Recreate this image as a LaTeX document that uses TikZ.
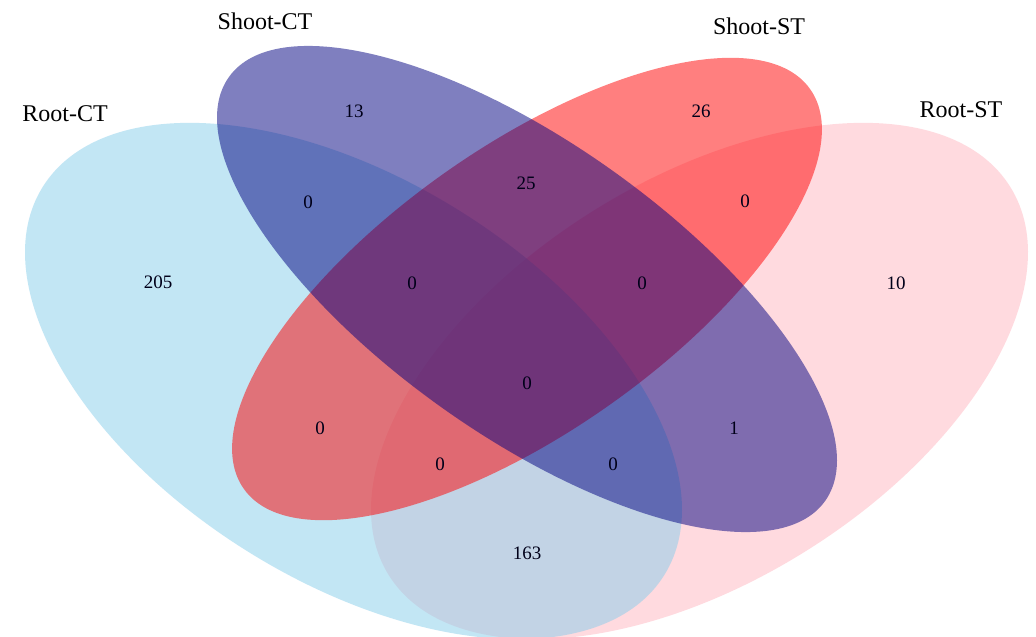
\documentclass[tikz,border=0pt]{standalone}
\usepackage{fontspec}
\setmainfont{Liberation Serif}
\definecolor{rootstcol}{RGB}{255,182,193}
\definecolor{rootctcol}{RGB}{135,206,235}
\definecolor{shootstcol}{RGB}{255,0,0}
\definecolor{shootctcol}{RGB}{0,0,128}
\begin{document}
\begin{tikzpicture}[x=1pt,y=-1pt,
  setfill/.style={fill opacity=0.5, draw=none},
  setlabel/.style={font=\fontsize{24}{28}\selectfont, text=black, inner sep=0pt},
  countlabel/.style={font=\fontsize{19}{22}\selectfont, text=black!90!blue, inner sep=0pt}]
\useasboundingbox (0,0) rectangle (1036,637);
\fill[white] (0,0) rectangle (1036,637);
\begin{scope}
\clip (0,0) rectangle (1036,637);
% Root-ST
\fill[rootstcol, setfill, rotate around={32:(699.5,381)}] (699.5,381) ellipse [x radius=366.4pt, y radius=200.6pt];
% Root-CT
\fill[rootctcol, setfill, rotate around={-32:(353.5,381)}] (353.5,381) ellipse [x radius=366.4pt, y radius=200.6pt];
% Shoot-ST
\fill[shootstcol, setfill, rotate around={35.2:(527,289)}] (527,289) ellipse [x radius=346.6pt, y radius=142.3pt];
% Shoot-CT
\fill[shootctcol, setfill, rotate around={-35.4:(527,289)}] (527,289) ellipse [x radius=365.8pt, y radius=146pt];
\end{scope}
% set labels
\node[setlabel] (lrootct) at (65,114) {Root-CT};
\node[setlabel] (lshootct) at (265,21) {Shoot-CT};
\node[setlabel] (lshootst) at (759,26) {Shoot-ST};
\node[setlabel] (lrootst) at (961,110) {Root-ST};
% counts
\node[countlabel] (n205) at (158,282) {205};
\node[countlabel] (n13) at (354,111) {13};
\node[countlabel] (n26) at (701,111) {26};
\node[countlabel] (n10) at (896,283) {10};
\node[countlabel] (nrcsc) at (308,202) {0};
\node[countlabel] (nssrs) at (745,201) {0};
\node[countlabel] (n25) at (526,183) {25};
\node[countlabel] (nul) at (412,283) {0};
\node[countlabel] (nur) at (642,283) {0};
\node[countlabel] (ncenter) at (527,383) {0};
\node[countlabel] (nrcss) at (320,428) {0};
\node[countlabel] (nlow1) at (440,464) {0};
\node[countlabel] (nlow2) at (613,464) {0};
\node[countlabel] (nscrs) at (734,428) {1};
\node[countlabel] (n163) at (527,553) {163};
\end{tikzpicture}
\end{document}
